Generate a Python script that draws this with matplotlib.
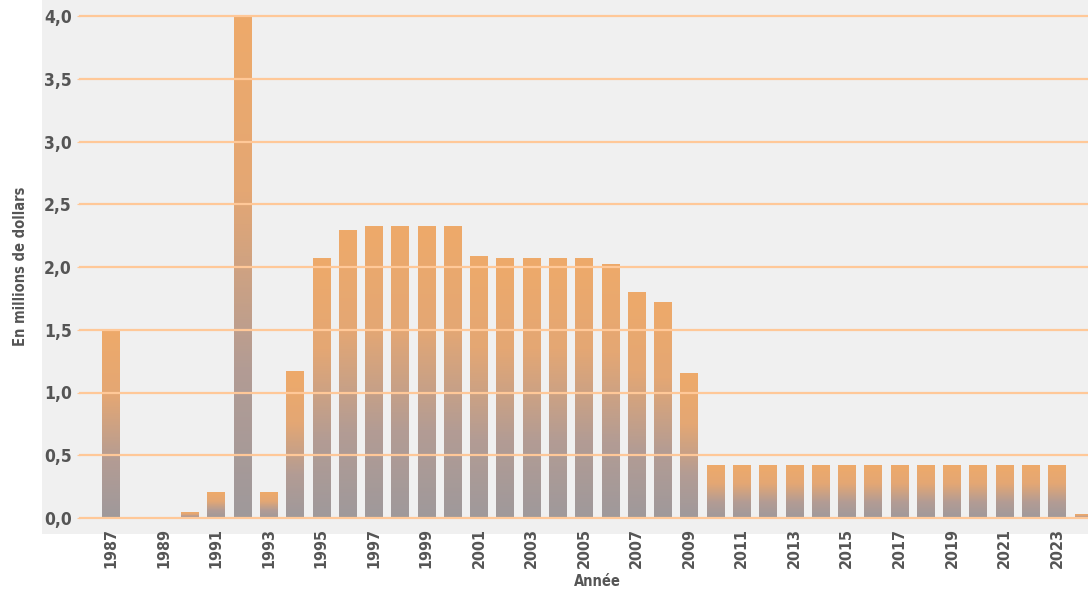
import matplotlib
matplotlib.use("Agg")
import matplotlib.pyplot as plt
import numpy as np
from matplotlib.colors import LinearSegmentedColormap

# Annual amounts, in millions of dollars
years = list(range(1987, 2025))
amounts = [
    1.50, 0.00, 0.00, 0.04, 0.20, 4.00, 0.20, 1.17, 2.07, 2.29,
    2.32, 2.32, 2.32, 2.32, 2.08, 2.07, 2.07, 2.07, 2.07, 2.02,
    1.80, 1.72, 1.15, 0.42, 0.42, 0.42, 0.42, 0.42, 0.42, 0.42,
    0.42, 0.42, 0.42, 0.42, 0.42, 0.42, 0.42, 0.03,
]
tick_years = list(range(1987, 2024, 2))
y_ticks = [0.0, 0.5, 1.0, 1.5, 2.0, 2.5, 3.0, 3.5, 4.0]
y_tick_labels = [f"{v:.1f}".replace(".", ",") for v in y_ticks]

TEXT = "#555555"
GRID = "#ffc898"
FONT = dict(family="DejaVu Sans", fontstretch="condensed", fontweight="bold")

fig = plt.figure(figsize=(10.88, 5.94), dpi=100)
W, H = 1088, 594

# light grey panel behind the plot
bg = fig.add_axes([42 / W, (H - 534) / H, 1 - 42 / W, 534 / H], zorder=0)
bg.set_facecolor("#f0f0f0")
bg.set_xticks([])
bg.set_yticks([])
for s in bg.spines.values():
    s.set_visible(False)

ax = fig.add_axes([80 / W, (H - 518) / H, 1 - 80 / W, 502 / H], zorder=1)
ax.set_facecolor("none")

bars = ax.bar(years, amounts, width=0.66, facecolor="none", edgecolor="none")

# vertical orange-to-grey fade inside each bar
fade = LinearSegmentedColormap.from_list(
    "fade", [(0.0, "#9f999b"), (0.3, "#b39c94"), (0.65, "#e4a774"), (1.0, "#eeaa6a")])
grad = np.linspace(0, 1, 256).reshape(-1, 1)
for b in bars:
    h = b.get_height()
    if h <= 0:
        continue
    x0 = b.get_x()
    ax.imshow(grad, cmap=fade, origin="lower", aspect="auto",
              extent=(x0, x0 + b.get_width(), 0, h), zorder=2)

for v in y_ticks:
    ax.axhline(v, color=GRID, lw=1.6, zorder=3, clip_on=False)

ax.set_xlim(1985.82, 2024.18)
ax.set_ylim(0, 4.0)

ax.set_yticks(y_ticks)
ax.set_yticklabels(y_tick_labels, fontsize=12.5, color=TEXT, **FONT)
ax.tick_params(axis="y", length=2, color=GRID, pad=4)

ax.set_xticks(tick_years)
ax.set_xticklabels([str(y) for y in tick_years], rotation=90, fontsize=11.5,
                   color=TEXT, **FONT)
ax.tick_params(axis="x", length=0, pad=7)

for s in ax.spines.values():
    s.set_visible(False)

fig.text(21 / W, 1 - 266 / H, "En millions de dollars", rotation=90,
         ha="center", va="center", fontsize=10.5, color=TEXT, **FONT)
fig.text(597 / W, 1 - 582 / H, "Année", ha="center", va="center",
         fontsize=10.5, color=TEXT, **FONT)

fig.savefig("out.png", dpi=100)
